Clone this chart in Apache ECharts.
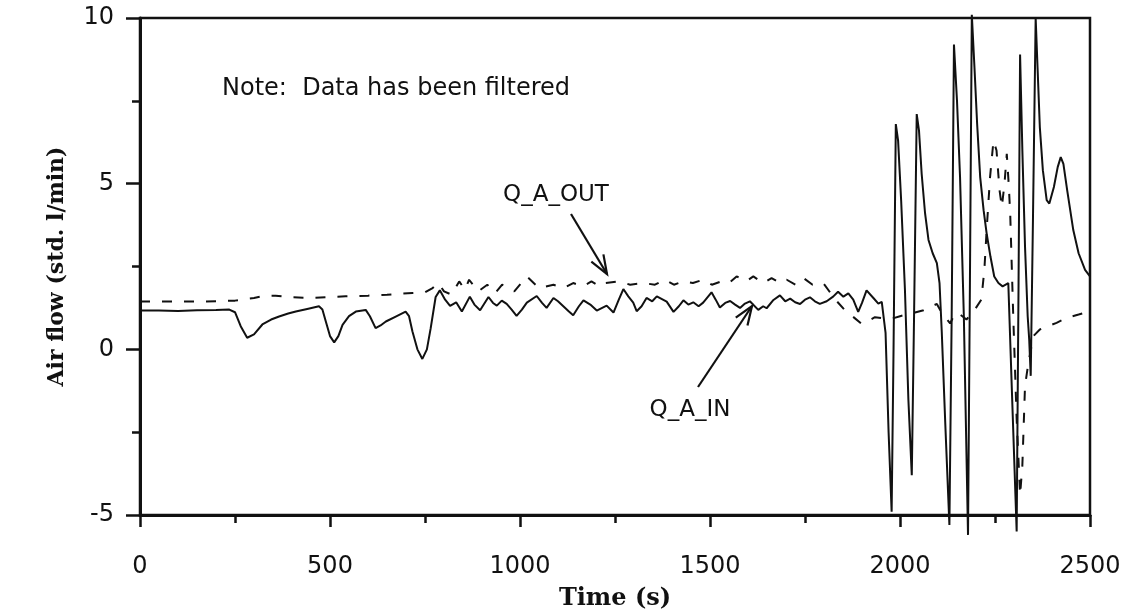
<!DOCTYPE html>
<html>
<head>
<meta charset="utf-8">
<script src="https://cdn.jsdelivr.net/npm/echarts@6/dist/echarts.min.js"></script>
<style>html,body{margin:0;padding:0;background:#fff;}#c{width:1127px;height:612px;}</style>
</head>
<body>
<div id="c"></div>
<script>
// Q_A_IN (solid) : [time s, air flow std l/min]
const qaIn = [
[0,1.17],[50,1.17],[100,1.16],[150,1.18],[200,1.19],[235,1.2],[250,1.12],[265,0.7],[282,0.35],[300,0.45],[322,0.75],[345,0.9],[366,0.99],[390,1.08],[410,1.14],[440,1.22],[471,1.3],[480,1.2],[489,0.84],[500,0.4],[511,0.21],[522,0.4],[533,0.74],[550,1.0],[568,1.14],[594,1.19],[605,1.0],[620,0.64],[633,0.72],[647,0.84],[673,0.99],[699,1.14],[708,1.0],[717,0.54],[730,0.0],[743,-0.29],[755,0.0],[765,0.64],[778,1.58],[789,1.78],
[803,1.5],[816,1.31],[832,1.42],[847,1.14],[868,1.59],[880,1.35],[895,1.18],[917,1.58],[929,1.4],[939,1.32],[952,1.47],[965,1.37],[978,1.2],[991,1.01],[1005,1.2],[1018,1.41],[1044,1.61],[1058,1.4],[1070,1.25],[1088,1.55],[1100,1.45],[1114,1.30],[1128,1.15],[1140,1.03],[1155,1.3],[1167,1.48],[1185,1.35],[1202,1.17],[1228,1.32],[1246,1.11],[1260,1.5],[1272,1.82],[1285,1.6],[1298,1.41],[1307,1.15],[1320,1.3],[1333,1.55],[1348,1.45],[1360,1.60],[1386,1.44],[1404,1.13],[1418,1.3],[1430,1.48],[1443,1.35],[1456,1.42],[1470,1.3],[1482,1.41],[1504,1.72],[1515,1.5],[1526,1.26],[1540,1.4],[1553,1.46],[1566,1.35],[1579,1.25],[1592,1.38],[1605,1.45],[1627,1.19],[1640,1.3],[1649,1.24],[1667,1.49],[1684,1.63],[1698,1.45],[1711,1.53],[1724,1.42],[1737,1.37],[1750,1.5],[1763,1.57],[1776,1.45],[1789,1.37],[1807,1.45],[1824,1.59],[1837,1.74],[1851,1.59],[1864,1.69],[1877,1.5],[1890,1.13],[1900,1.4],[1912,1.78],[1930,1.55],[1943,1.38],[1952,1.43],
[1962,0.5],[1970,-2.5],[1978,-4.9],[1983,0],[1989,6.8],[1995,6.3],[2003,4.5],[2013,1.8],[2022,-1.5],[2031,-3.8],[2037,1.0],[2044,7.1],[2050,6.6],[2057,5.3],[2066,4.1],[2075,3.3],[2086,2.9],[2097,2.6],[2104,2.0],[2110,0.5],[2119,-2.2],[2130,-5.3],[2136,1.0],[2142,9.2],[2150,7.5],[2158,5.2],[2168,1.0],[2179,-5.6],[2184,2.0],[2189,10.1],[2196,8.5],[2203,6.8],[2211,5.2],[2220,4.2],[2228,3.5],[2238,2.8],[2248,2.2],[2259,2.0],[2270,1.9],[2285,2.0],[2294,-1.1],[2307,-5.5],[2312,2.0],[2316,8.9],[2322,6.0],[2329,3.1],[2336,1.0],[2340,0.3],[2344,-0.8],[2350,4.0],[2357,10.0],[2362,8.5],[2368,6.7],[2376,5.4],[2386,4.5],[2393,4.4],[2405,4.9],[2415,5.5],[2423,5.8],[2430,5.6],[2440,4.8],[2456,3.6],[2470,2.9],[2487,2.4],[2500,2.2]
];
// Q_A_OUT (dashed)
const qaOut = [
[0,1.44],[100,1.44],[200,1.45],[250,1.47],[300,1.55],[330,1.62],[357,1.62],[400,1.57],[450,1.55],[500,1.58],[541,1.6],[600,1.62],[650,1.65],[717,1.7],[750,1.72],[770,1.85],[785,2.0],[800,1.75],[820,1.65],[840,2.05],[855,1.8],[866,2.1],[890,1.75],[914,1.95],[935,1.7],[953,1.95],[985,1.75],[1018,2.2],[1050,1.85],[1088,1.95],[1115,1.85],[1140,2.0],[1165,1.9],[1188,2.05],[1210,1.9],[1224,2.0],[1260,2.05],[1290,1.95],[1325,2.0],[1355,1.95],[1381,2.1],[1405,1.95],[1430,2.05],[1455,2.0],[1482,2.1],[1505,1.95],[1530,2.05],[1550,2.0],[1570,2.2],[1595,2.05],[1614,2.2],[1640,2.0],[1662,2.15],[1685,2.0],[1702,2.1],[1725,1.95],[1746,2.15],[1770,1.95],[1798,2.0],[1830,1.5],[1855,1.18],[1880,0.95],[1899,0.77],[1915,0.85],[1934,0.97],[1974,0.91],[2000,1.0],[2035,1.1],[2062,1.18],[2097,1.37],[2110,1.1],[2132,0.78],[2145,1.1],[2158,1.05],[2175,0.9],[2197,1.2],[2214,1.5],[2222,2.4],[2228,3.6],[2237,5.2],[2246,6.3],[2254,6.0],[2262,4.8],[2268,4.3],[2275,5.0],[2281,5.9],[2286,5.0],[2290,4.1],[2298,1.0],[2307,-2.1],[2316,-4.4],[2322,-3.5],[2329,-1.1],[2338,-0.4],[2351,0.4],[2368,0.6],[2412,0.8],[2439,0.95],[2470,1.05],[2500,1.15]
];
const xTicks = [0, 500, 1000, 1500, 2000, 2500];
const yTicks = [-5, 0, 5, 10];

const ink = '#111';
const chart = echarts.init(document.getElementById('c'), null, {renderer: 'canvas'});

function arrow(x1, y1, x2, y2) {
  const a = Math.atan2(y2 - y1, x2 - x1), L = 20, w = 0.36;
  return [
    {type: 'line', shape: {x1, y1, x2, y2}, style: {stroke: ink, lineWidth: 2.2}},
    {type: 'polyline', shape: {points: [
      [x2 - L * Math.cos(a - w), y2 - L * Math.sin(a - w)], [x2, y2],
      [x2 - L * Math.cos(a + w), y2 - L * Math.sin(a + w)]]},
      style: {stroke: ink, lineWidth: 2.2, fill: null}}
  ];
}

chart.setOption({
  animation: false,
  backgroundColor: '#fff',
  grid: {left: 140, right: 37, top: 18, bottom: 97, outerBoundsMode: 'none', containLabel: false,
         show: true, borderColor: ink, borderWidth: 2.5, backgroundColor: 'transparent'},
  xAxis: {
    type: 'value', min: xTicks[0], max: xTicks[xTicks.length - 1], interval: 500,
    name: 'Time (s)', nameLocation: 'middle', nameGap: 72,
    nameTextStyle: {fontFamily: 'DejaVu Serif', fontWeight: 'bold', fontSize: 24, color: ink},
    axisLine: {onZero: false, lineStyle: {color: ink, width: 3}},
    axisTick: {length: 12, lineStyle: {color: ink, width: 2.5}},
    minorTick: {show: true, splitNumber: 2, length: 8, lineStyle: {color: ink, width: 2.5}},
    splitLine: {show: false}, minorSplitLine: {show: false},
    axisLabel: {margin: 40, fontFamily: 'DejaVu Sans', fontSize: 24, color: ink, formatter: v => String(v)}
  },
  yAxis: {
    type: 'value', min: yTicks[0], max: yTicks[yTicks.length - 1], interval: 5,
    name: 'Air flow (std. l/min)', nameLocation: 'middle', nameGap: 72, nameRotate: 90,
    nameTextStyle: {fontFamily: 'DejaVu Serif', fontWeight: 'bold', fontSize: 22, color: ink},
    axisLine: {onZero: false, lineStyle: {color: ink, width: 3}},
    axisTick: {length: 14, lineStyle: {color: ink, width: 2.5}},
    minorTick: {show: true, splitNumber: 2, length: 8, lineStyle: {color: ink, width: 2.5}},
    splitLine: {show: false}, minorSplitLine: {show: false},
    axisLabel: {margin: 26, fontFamily: 'DejaVu Sans', fontSize: 24, color: ink, formatter: v => String(v)}
  },
  series: [
    {name: 'Q_A_IN', type: 'line', data: qaIn, showSymbol: false, clip: false,
     lineStyle: {color: ink, width: 2}},
    {name: 'Q_A_OUT', type: 'line', data: qaOut, showSymbol: false, clip: false,
     lineStyle: {color: ink, width: 2, type: [10, 12]}}
  ],
  graphic: [
    {type: 'text', left: 222, top: 77, style: {text: 'Note:  Data has been filtered', font: '24px "DejaVu Sans"', fill: ink}},
    {type: 'text', x: 556, y: 195, style: {text: 'Q_A_OUT', font: '23px "DejaVu Sans"', fill: ink, align: 'center', verticalAlign: 'middle'}},
    {type: 'text', x: 690, y: 410, style: {text: 'Q_A_IN', font: '23px "DejaVu Sans"', fill: ink, align: 'center', verticalAlign: 'middle'}},
    ...arrow(571, 214, 607, 274),
    ...arrow(698, 387, 752, 306)
  ]
});
</script>
</body>
</html>
